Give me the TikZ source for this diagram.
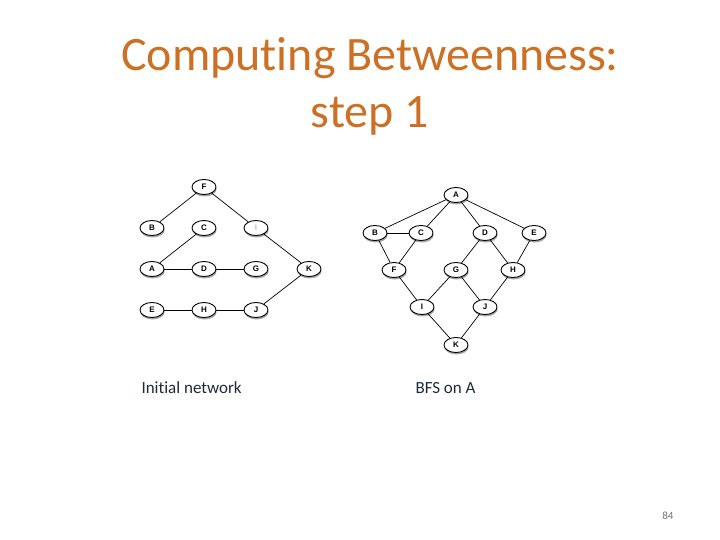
\documentclass[tikz,border=0pt]{standalone}
\usepackage{fontspec}
\setmainfont[Ligatures = NoCommon]{Carlito}
\newfontfamily\nodefont{Liberation Sans}
\usetikzlibrary{shapes.geometric,shadows}

\definecolor{titleorange}{RGB}{204,112,38}
\definecolor{labelblue}{RGB}{30,40,60}

\tikzset{
	vertex/.style = {ellipse, draw = black, line width = 0.9pt, fill = white, minimum width = 24pt,
		minimum height = 15pt, inner sep = 0pt, font = \nodefont\bfseries\fontsize{8}{8}\selectfont,
		drop shadow = {shadow xshift = 0.6pt, shadow yshift = -2pt, opacity = 0.35, fill = black}},
	edge/.style = {line width = 0.7pt, black}
}

\begin{document}
\begin{tikzpicture}[x = 1pt, y = -1pt]

	\useasboundingbox (0, 0) rectangle (720, 540);

	% Title

	\node [titleorange, font = \fontsize{48}{57}\selectfont, align = center] (title) at (370, 86)
		{Computing Betweenness:\\ step 1};

	% Initial network

	\node [vertex] (lF) at (204, 187) {F};
	\node [vertex] (lB) at (152, 228) {B};
	\node [vertex] (lC) at (204, 228) {C};
	\node [vertex, text = black!25] (lI) at (256, 228) {I};
	\node [vertex] (lA) at (152, 269) {A};
	\node [vertex] (lD) at (204, 269) {D};
	\node [vertex] (lG) at (256, 269) {G};
	\node [vertex] (lK) at (309, 269) {K};
	\node [vertex] (lE) at (152, 310) {E};
	\node [vertex] (lH) at (204, 310) {H};
	\node [vertex] (lJ) at (256, 310) {J};

	\foreach \a/\b in {lF/lB, lF/lI, lI/lK, lC/lA, lA/lD, lD/lG, lK/lJ, lE/lH, lH/lJ}
	{
		\draw [edge] (\a) -- (\b);
	}

	% BFS on A

	\node [vertex] (rA) at (456, 195) {A};
	\node [vertex] (rB) at (375, 233) {B};
	\node [vertex] (rC) at (421, 233) {C};
	\node [vertex] (rD) at (485, 233) {D};
	\node [vertex] (rE) at (534, 233) {E};
	\node [vertex] (rF) at (394, 270) {F};
	\node [vertex] (rG) at (456, 270) {G};
	\node [vertex] (rH) at (513, 270) {H};
	\node [vertex] (rI) at (422, 307) {I};
	\node [vertex] (rJ) at (485, 307) {J};
	\node [vertex] (rK) at (456, 345) {K};

	\foreach \a/\b in {rA/rB, rA/rC, rA/rD, rA/rE, rB/rC, rB/rF, rC/rF, rD/rG, rD/rH,
		rE/rH, rF/rI, rG/rI, rG/rJ, rH/rJ, rI/rK, rJ/rK}
	{
		\draw [edge] (\a) -- (\b);
	}

	% Captions

	\node [labelblue, font = \fontsize{17}{17}\selectfont, anchor = base west] (capL) at (138, 393) {Initial network};
	\node [labelblue, font = \fontsize{17}{17}\selectfont, anchor = base west] (capR) at (412, 393) {BFS on A};

	\node [black!55, font = \fontsize{11}{11}\selectfont, anchor = base east] (page) at (677, 519) {84};

\end{tikzpicture}
\end{document}
